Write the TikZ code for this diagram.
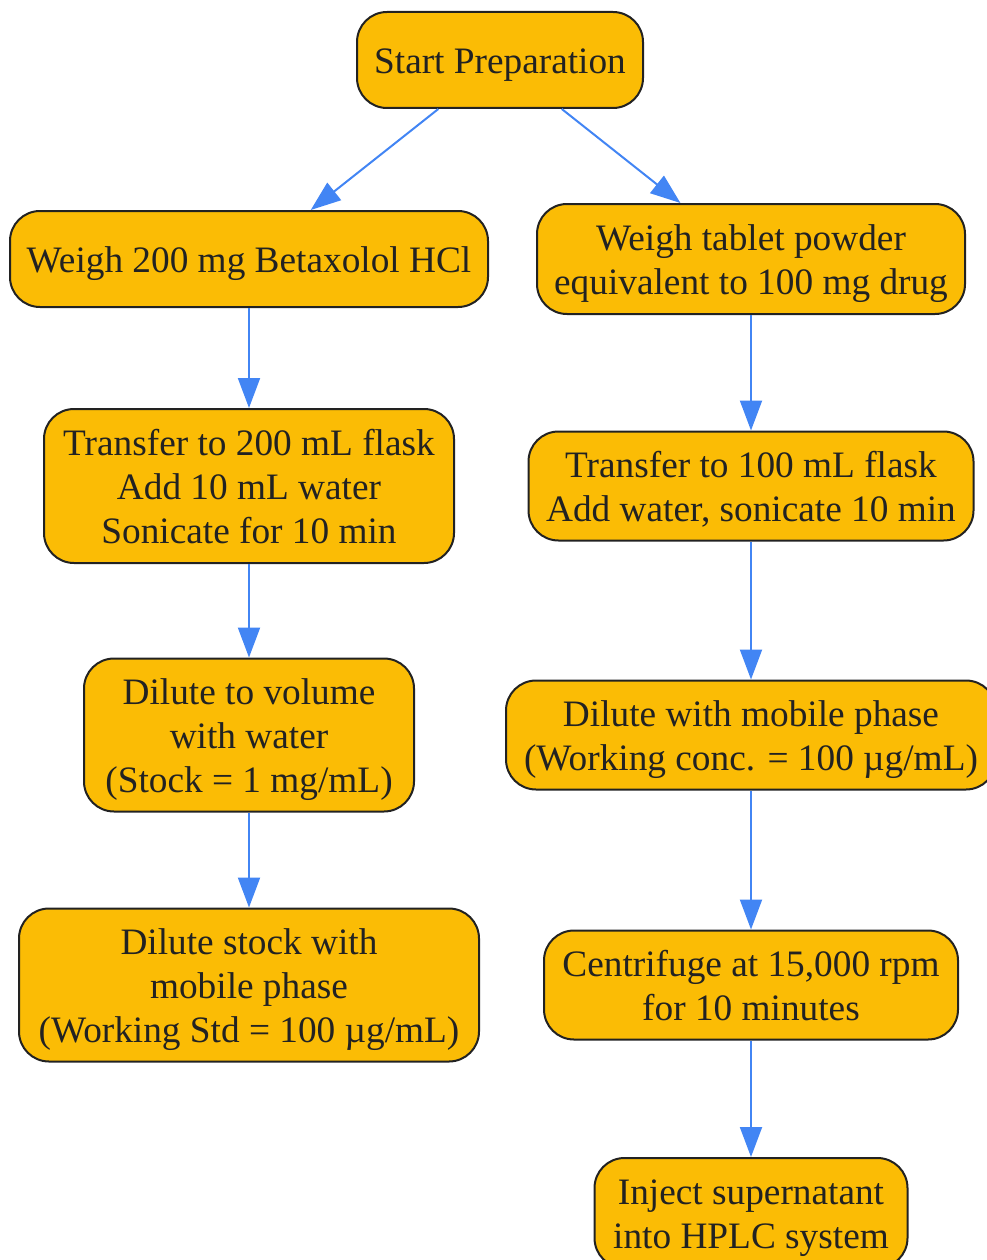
\documentclass[tikz,border=0pt]{standalone}
\usepackage{fontspec}
\setmainfont{Liberation Serif}
\usetikzlibrary{arrows.meta}

\definecolor{boxfill}{RGB}{251,188,5}
\definecolor{boxline}{RGB}{34,34,34}
\definecolor{arrblue}{RGB}{66,133,244}

% box text: centred lines, set a little below the middle
\newcommand\boxtxt[1]{\raisebox{0pt}[\dimexpr\height+10pt\relax][\depth]{\begin{tabular}{@{}c@{}}#1\end{tabular}}}

\tikzset{
  box/.style={draw=boxline,fill=boxfill,line width=2pt,rounded corners=30pt,
    inner sep=4pt,text=boxline,
    font=\fontsize{37.3}{44}\selectfont},
  arr/.style={draw=arrblue,line width=2pt,-{Triangle[length=30pt,width=22pt]}}
}

\begin{document}
\begin{tikzpicture}[x=1pt,y=-1pt]
    \useasboundingbox (0,0) rectangle (987,1260);
    % left branch: standard
    \node[box,minimum width=286pt,minimum height=96pt] (start) at (500,60){\boxtxt{Start Preparation}};
    \node[box,minimum width=478pt,minimum height=96pt] (std1) at (249,259){\boxtxt{Weigh 200 mg Betaxolol HCl}};
    \node[box,minimum width=410pt,minimum height=154pt] (std2) at (249,486){\boxtxt{Transfer to 200 mL flask\\Add 10 mL water\\Sonicate for 10 min}};
    \node[box,minimum width=330pt,minimum height=153pt] (std3) at (249,735){\boxtxt{Dilute to volume\\with water\\(Stock = 1 mg/mL)}};
    \node[box,minimum width=460pt,minimum height=153pt] (std4) at (249,985){\boxtxt{Dilute stock with\\mobile phase\\(Working Std = 100 µg/mL)}};
    % right branch: sample
    \node[box,minimum width=428pt,minimum height=110pt] (smp1) at (751,259){\boxtxt{Weigh tablet powder\\equivalent to 100 mg drug}};
    \node[box,minimum width=445pt,minimum height=109pt] (smp2) at (751,486){\boxtxt{Transfer to 100 mL flask\\Add water, sonicate 10 min}};
    \node[box,minimum width=490pt,minimum height=109pt] (smp3) at (751,735){\boxtxt{Dilute with mobile phase\\(Working conc. = 100 µg/mL)}};
    \node[box,minimum width=414pt,minimum height=109pt] (smp4) at (751,985){\boxtxt{Centrifuge at 15,000 rpm\\for 10 minutes}};
    \node[box,minimum width=313pt,minimum height=110pt] (smp5) at (751,1213){\boxtxt{Inject supernatant\\into HPLC system}};
    % connectors
    \draw[arr] (start)--(std1);
    \draw[arr] (start)--(smp1);
    \draw[arr] (std1)--(std2);
    \draw[arr] (std2)--(std3);
    \draw[arr] (std3)--(std4);
    \draw[arr] (smp1)--(smp2);
    \draw[arr] (smp2)--(smp3);
    \draw[arr] (smp3)--(smp4);
    \draw[arr] (smp4)--(smp5);
\end{tikzpicture}
\end{document}
